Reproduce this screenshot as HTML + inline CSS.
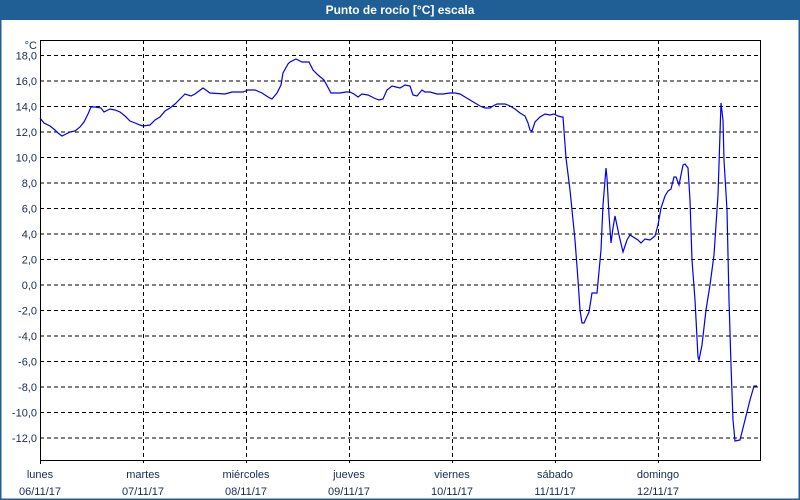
<!DOCTYPE html>
<html><head><meta charset="utf-8"><style>
html,body{margin:0;padding:0;}
body{width:800px;height:500px;overflow:hidden;background:#fff;font-family:"Liberation Sans","DejaVu Sans",sans-serif;}
</style></head><body>
<svg width="800" height="500" xmlns="http://www.w3.org/2000/svg" style="display:block">
<rect x="0" y="0" width="800" height="500" fill="#fff"/>
<rect x="0.5" y="0.5" width="799" height="499" fill="none" stroke="#1f5f96" stroke-width="2"/>
<rect x="0" y="0" width="800" height="20" fill="#1f5f96"/>
<text x="400" y="14" font-size="12" font-weight="bold" fill="#fff" text-anchor="middle">Punto de rocío [°C] escala</text>
<g stroke="#000" stroke-width="1" stroke-dasharray="4,3" fill="none">
<path d="M40 55.5H760M40 81H760M40 106.5H760M40 132H760M40 157.5H760M40 183H760M40 208.5H760M40 234H760M40 259.5H760M40 285H760M40 310.5H760M40 336H760M40 361.5H760M40 387H760M40 412.5H760M40 438H760"/>
<path d="M143.5 40V463M246.5 40V463M349.5 40V463M452.5 40V463M555.5 40V463M658.5 40V463"/>
</g>
<rect x="40.5" y="40.5" width="720" height="420" fill="none" stroke="#000" stroke-width="1"/>
<path d="M40.5 460V464" stroke="#000"/>
<g font-size="11" fill="#1a2a50" text-anchor="end">
<text x="37" y="49">°C</text>
<text x="37" y="59.5">18,0</text><text x="37" y="85">16,0</text><text x="37" y="110.5">14,0</text><text x="37" y="136">12,0</text><text x="37" y="161.5">10,0</text><text x="37" y="187">8,0</text><text x="37" y="212.5">6,0</text><text x="37" y="238">4,0</text><text x="37" y="263.5">2,0</text><text x="37" y="289">0,0</text><text x="37" y="314.5">-2,0</text><text x="37" y="340">-4,0</text><text x="37" y="365.5">-6,0</text><text x="37" y="391">-8,0</text><text x="37" y="416.5">-10,0</text><text x="37" y="442">-12,0</text>
</g>
<g font-size="11" fill="#1a2a50" text-anchor="middle">
<text x="40" y="478">lunes</text><text x="40" y="495">06/11/17</text>
<text x="143" y="478">martes</text><text x="143" y="495">07/11/17</text>
<text x="246" y="478">miércoles</text><text x="246" y="495">08/11/17</text>
<text x="349" y="478">jueves</text><text x="349" y="495">09/11/17</text>
<text x="452" y="478">viernes</text><text x="452" y="495">10/11/17</text>
<text x="555" y="478">sábado</text><text x="555" y="495">11/11/17</text>
<text x="658" y="478">domingo</text><text x="658" y="495">12/11/17</text>
</g>
<polyline fill="none" stroke="#0000ee" stroke-width="1.2" points="40,118 44,123 50,126 55,130 58,133 62,136 66,134 70,132 75,131 80,127 84,122 88,114 91,107 95,107 101,108 104,112 108,110 110,109 115,110 120,112 125,116 130,121 135,123 140,125 143,126 150,125 155,120 160,117 165,111 170,108 175,104 178,101 185,94 191,96 195,94 203,88 210,93 225,94 232,92 243,92 248,90 255,90 262,93 268,97 272,99 277,93 281,85 283,73 288,64 290,62 296,59 302,62 309,62 313,70 318,75 324,80 331,93 340,93 346,92 350,92 354,94 358,97 362,94 368,95 374,98 379,100 383,99 387,90 392,86 396,87 400,88 405,85 410,86 413,95 417,96 422,90 425,92 430,92 437,94 443,94 450,93 455,93 460,94 465,97 470,100 475,103 480,106 485,108 490,108 493,106 497,104 505,104 510,106 515,109 520,113 525,116 528,123 530,130 532,131 535,122 540,117 545,114 550,115 554,114 558,116 562,117 563,117 566,158 570,190 575,240 578,280 580,310 582,323 584,323 589,312 592,293 597,293 601,250 603,205 606,168 607,178 609,215 611,243 613,228 615,216 619,235 623,252 627,240 630,235 638,240 641,243 645,239 650,240 655,236 658,225 661,208 665,196 668,191 671,189 674,177 676,177 679,185 683,165 685,164 688,168 690,200 692,260 695,300 698,357 699,360 702,345 706,310 710,285 714,255 718,195 721,103 723,120 724,160 727,210 729,300 731,365 733,420 735,441 740,440 745,420 750,400 754,386 757,386"/>
</svg>
</body></html>
